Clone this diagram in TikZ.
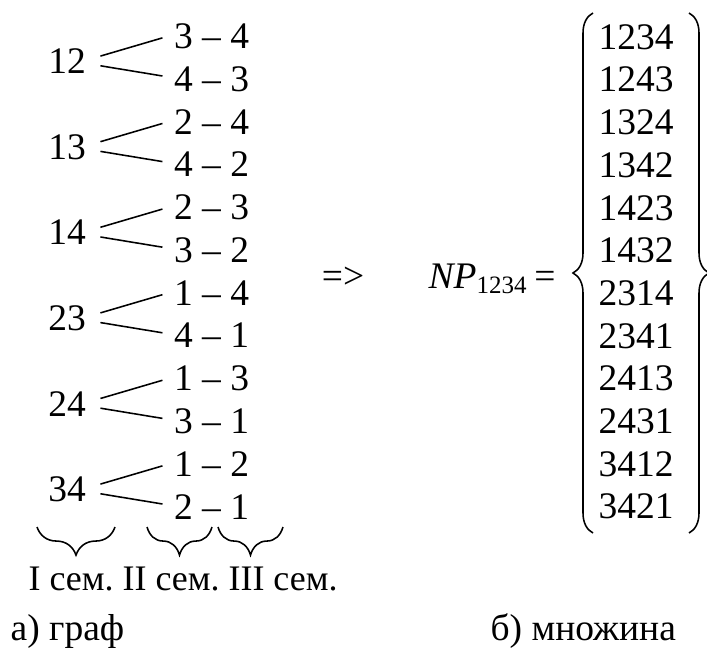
\documentclass[tikz,border=0pt,12pt]{standalone}
\usepackage{fontspec}
\setmainfont{Liberation Serif}
\usepackage{tikz}
\usetikzlibrary{decorations.pathreplacing, calc}
\frenchspacing

\begin{document}
\begin{tikzpicture}[
  x=0.32pt, y=-0.32pt,
  every node/.style={font=\fontsize{12}{14}\selectfont},
  grp/.style={inner xsep=4.5pt, inner ysep=0pt},
  pair/.style={inner xsep=3.5pt, inner ysep=0pt},
  elem/.style={inner sep=0pt},
  link/.style={line width=0.5pt, black},
  brc/.style={decorate, line width=0.5pt,
    decoration={brace, amplitude=#1}},
  lbl/.style={anchor=base west, inner sep=0pt},
]
\useasboundingbox (0,0) rectangle (707,648);
% ====== (a) GRAPH ======
\node[grp] (g12) at (67, 61.4) {12};
\node[pair] (p34) at (211.5, 36) {3 -- 4};
\node[pair] (p43) at (211.5, 78.8) {4 -- 3};
\node[grp] (g13) at (67, 147) {13};
\node[pair] (p24) at (211.5, 121.6) {2 -- 4};
\node[pair] (p42) at (211.5, 164.4) {4 -- 2};
\node[grp] (g14) at (67, 232.6) {14};
\node[pair] (p23) at (211.5, 207.2) {2 -- 3};
\node[pair] (p32) at (211.5, 250) {3 -- 2};
\node[grp] (g23) at (67, 318.2) {23};
\node[pair] (p14) at (211.5, 292.8) {1 -- 4};
\node[pair] (p41) at (211.5, 335.6) {4 -- 1};
\node[grp] (g24) at (67, 403.8) {24};
\node[pair] (p13) at (211.5, 378.4) {1 -- 3};
\node[pair] (p31) at (211.5, 421.2) {3 -- 1};
\node[grp] (g34) at (67, 489.4) {34};
\node[pair] (p12) at (211.5, 464) {1 -- 2};
\node[pair] (p21) at (211.5, 506.8) {2 -- 1};
\draw[link] ([yshift=1.7pt]g12.east) -- ([yshift=-0.6pt]p34.west);
\draw[link] ([yshift=-1.4pt]g12.east) -- ([yshift=0.9pt]p43.west);
\draw[link] ([yshift=1.7pt]g13.east) -- ([yshift=-0.6pt]p24.west);
\draw[link] ([yshift=-1.4pt]g13.east) -- ([yshift=0.9pt]p42.west);
\draw[link] ([yshift=1.7pt]g14.east) -- ([yshift=-0.6pt]p23.west);
\draw[link] ([yshift=-1.4pt]g14.east) -- ([yshift=0.9pt]p32.west);
\draw[link] ([yshift=1.7pt]g23.east) -- ([yshift=-0.6pt]p14.west);
\draw[link] ([yshift=-1.4pt]g23.east) -- ([yshift=0.9pt]p41.west);
\draw[link] ([yshift=1.7pt]g24.east) -- ([yshift=-0.6pt]p13.west);
\draw[link] ([yshift=-1.4pt]g24.east) -- ([yshift=0.9pt]p31.west);
\draw[link] ([yshift=1.7pt]g34.east) -- ([yshift=-0.6pt]p12.west);
\draw[link] ([yshift=-1.4pt]g34.east) -- ([yshift=0.9pt]p21.west);
%
\draw[brc=9pt] (115,527) -- (37,527);
\draw[brc=9pt] (212,527) -- (147,527);
\draw[brc=9pt] (283,527) -- (218,527);
\node[lbl, font=\fontsize{11.5}{13}\selectfont] (sem) at (28,590)
  {I сем. II сем. III сем.};
\node[lbl] (cap_a) at (10,640) {а) граф};
%
% ====== (b) SET ======
\node[anchor=base, inner sep=0pt] (impl) at (343,288) {=>};
\node[lbl] (np) at (428,288) {\itshape NP\/\upshape\textsubscript{1234}\,=};
\node[elem] (e1) at (636, 37) {1234};
\node[elem] (e2) at (636, 79.7) {1243};
\node[elem] (e3) at (636, 122.4) {1324};
\node[elem] (e4) at (636, 165.1) {1342};
\node[elem] (e5) at (636, 207.8) {1423};
\node[elem] (e6) at (636, 250.5) {1432};
\node[elem] (e7) at (636, 293.2) {2314};
\node[elem] (e8) at (636, 335.9) {2341};
\node[elem] (e9) at (636, 378.6) {2413};
\node[elem] (e10) at (636, 421.3) {2431};
\node[elem] (e11) at (636, 464) {3412};
\node[elem] (e12) at (636, 506.7) {3421};
\draw[brc=6.4pt] (593,533) -- (593,13);
\draw[brc=6.4pt] (689,13) -- (689,533);
\node[lbl] (cap_b) at (490,640) {б) множина};
\end{tikzpicture}
\end{document}
